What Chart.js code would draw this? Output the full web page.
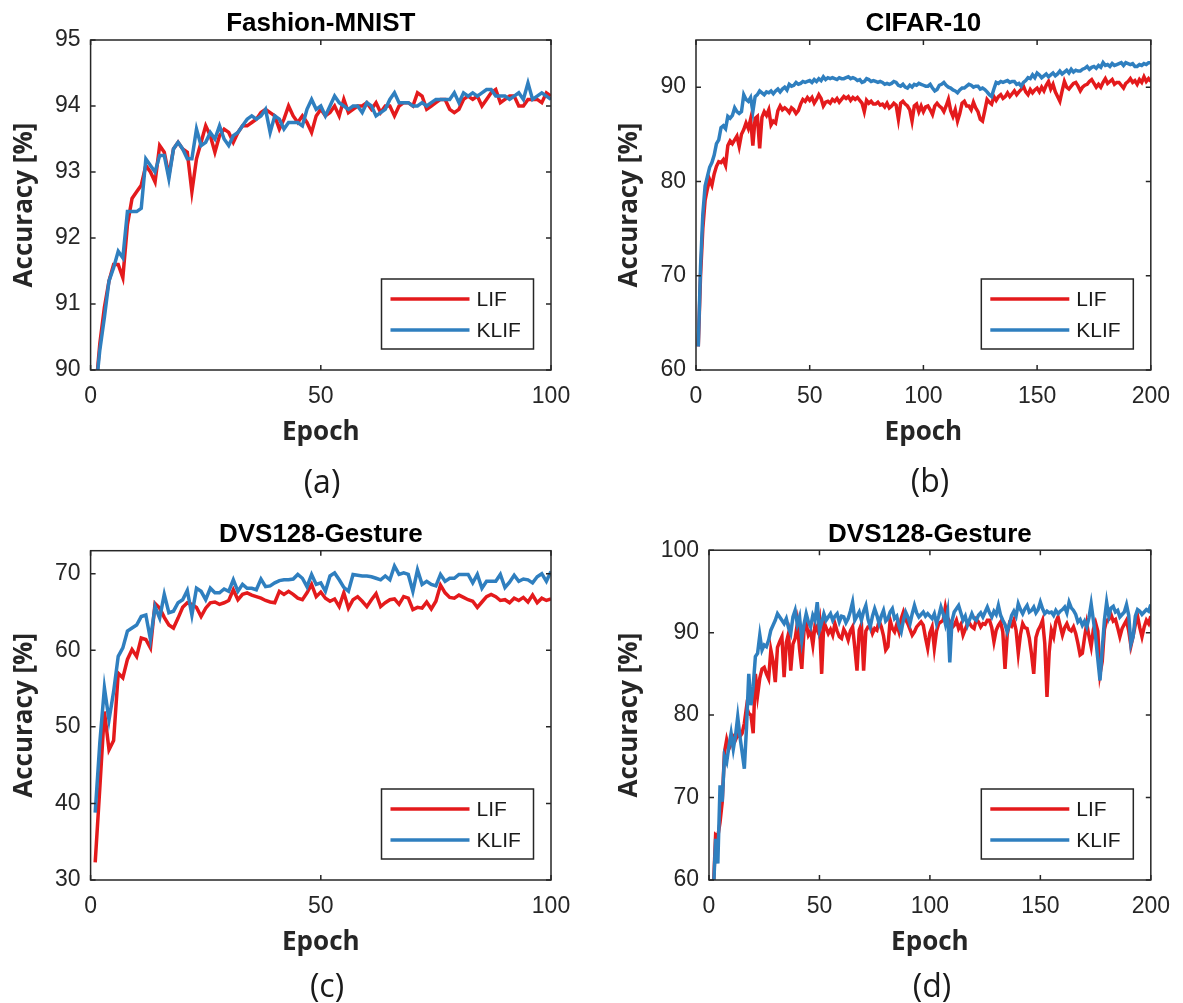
<!DOCTYPE html>
<html>
<head>
<meta charset="utf-8">
<title>LIF vs KLIF accuracy</title>
<script src="https://cdn.jsdelivr.net/npm/chart.js@4.4.1/dist/chart.umd.min.js"></script>
<style>
  body { margin: 0; background: #fff; }
  #wrap { position: relative; width: 1183px; height: 1003px; overflow: hidden; }
  canvas { position: absolute; }
  .cap { position: absolute; width: 80px; margin-left: -40px; text-align: center;
         font-family: 'Open Sans', sans-serif; font-size: 32px; color: #1a1a1a; line-height: 40px; }
</style>
</head>
<body>
<div id="wrap">
  <canvas id="chartA" width="590" height="460" style="left:0;top:0"></canvas>
  <canvas id="chartB" width="593" height="460" style="left:590px;top:0"></canvas>
  <canvas id="chartC" width="590" height="470" style="left:0;top:500px"></canvas>
  <canvas id="chartD" width="593" height="470" style="left:590px;top:500px"></canvas>
  <div class="cap" style="left:322px;top:461px">(a)</div>
  <div class="cap" style="left:930px;top:460px">(b)</div>
  <div class="cap" style="left:327px;top:965px">(c)</div>
  <div class="cap" style="left:932px;top:965px">(d)</div>
</div>
<script>
// Epoch numbers (x values)
const epochs100 = Array.from({length: 100}, (_, i) => i + 1);
const epochs200 = Array.from({length: 200}, (_, i) => i + 1);

// Tick values
const xTicks100 = [0, 50, 100];
const xTicks200 = [0, 50, 100, 150, 200];
const fmnistYTicks = [90, 91, 92, 93, 94, 95];
const cifarYTicks = [60, 70, 80, 90];
const gesture100YTicks = [30, 40, 50, 60, 70];
const gesture200YTicks = [60, 70, 80, 90, 100];

// (a) Fashion-MNIST
const fmnistLIF = [
  89.6, 90.4, 90.95, 91.35, 91.6, 91.6, 91.4, 92.2, 92.6, 92.7,
  92.8, 93.1, 93.0, 92.85, 93.4, 93.3, 92.95, 93.35, 93.45, 93.35,
  93.3, 92.7, 93.2, 93.45, 93.7, 93.55, 93.3, 93.55, 93.65, 93.6,
  93.45, 93.6, 93.7, 93.7, 93.75, 93.8, 93.9, 93.95, 93.9, 93.85,
  93.65, 93.8, 94.0, 93.85, 93.75, 93.85, 93.75, 93.6, 93.85, 93.95,
  93.85, 93.9, 94.0, 93.85, 94.1, 93.9, 93.95, 94.0, 94.0, 94.05,
  93.95, 94.05, 93.9, 94.0, 94.0, 93.85, 94.0, 94.05, 94.05, 94.0,
  94.2, 94.15, 93.95, 94.0, 94.05, 94.1, 94.1, 93.95, 93.9, 93.95,
  94.1, 94.15, 94.1, 94.15, 94.0, 94.1, 94.2, 94.25, 94.05, 94.1,
  94.15, 94.15, 94.0, 94.0, 94.1, 94.1, 94.1, 94.05, 94.2, 94.15
];
const fmnistKLIF = [
  89.6, 90.3, 90.8, 91.35, 91.55, 91.8, 91.7, 92.4, 92.4, 92.4,
  92.45, 93.2, 93.1, 93.0, 93.25, 93.25, 92.9, 93.35, 93.45, 93.35,
  93.2, 93.2, 93.65, 93.4, 93.45, 93.6, 93.5, 93.7, 93.5, 93.4,
  93.55, 93.6, 93.7, 93.8, 93.85, 93.8, 93.85, 93.95, 93.6, 93.85,
  93.8, 93.65, 93.75, 93.75, 93.75, 93.7, 93.95, 94.1, 93.95, 94.0,
  93.85, 94.0, 94.15, 94.05, 94.0, 93.95, 94.0, 94.0, 93.9, 94.05,
  94.0, 93.85, 93.9, 93.95, 94.1, 94.2, 94.05, 94.05, 94.05, 94.0,
  94.0, 94.05, 94.0, 94.05, 94.1, 94.1, 94.1, 94.1, 94.2, 94.05,
  94.2, 94.15, 94.2, 94.15, 94.2, 94.25, 94.25, 94.15, 94.15, 94.15,
  94.1, 94.15, 94.2, 94.1, 94.35, 94.1, 94.15, 94.2, 94.15, 94.1
];

// (b) CIFAR-10
const cifarLIF = [
  62.5, 70.0, 75.0, 78.0, 79.2, 80.2, 79.6, 80.8, 81.6, 82.1,
  82.0, 82.3, 81.7, 83.8, 84.3, 84.0, 84.4, 84.8, 83.7, 85.0,
  85.5, 86.2, 85.6, 86.6, 83.8, 86.7, 86.9, 83.5, 86.8, 87.4,
  87.0, 87.6, 86.0, 86.4, 86.2, 87.5, 88.0, 87.6, 87.8, 87.6,
  87.3, 87.8, 87.6, 87.2, 87.5, 88.2, 88.7, 88.5, 88.9, 88.6,
  88.9, 88.3, 88.7, 89.2, 88.8, 88.0, 88.4, 88.5, 88.3, 88.7,
  88.5, 88.8, 88.4, 88.7, 89.0, 88.8, 89.0, 88.6, 88.9, 88.7,
  88.9, 88.6, 88.3, 87.4, 88.6, 88.3, 88.5, 88.2, 88.2, 88.4,
  88.1, 88.2, 87.9, 88.3, 87.8, 88.0, 88.3, 88.1, 86.6, 88.3,
  88.5, 88.2, 88.0, 87.6, 86.4, 88.0, 88.2, 87.4, 88.0, 87.4,
  87.9, 88.0, 87.6, 87.1, 88.0, 88.3, 88.0, 87.8, 87.4, 88.0,
  88.7, 87.5, 86.9, 87.6, 86.4, 87.2, 88.3, 88.5, 88.0, 88.0,
  87.6, 88.4, 87.8, 87.4, 86.6, 86.4, 87.5, 88.7, 88.4, 88.2,
  89.0, 88.6, 89.0, 89.2, 88.8, 89.0, 89.4, 89.0, 89.3, 89.6,
  89.2, 89.5, 89.75, 90.1, 89.5, 89.2, 89.75, 89.4, 89.7, 89.9,
  89.5, 90.0, 89.6, 90.2, 90.6, 89.8, 90.3, 89.5, 89.0, 88.5,
  89.6, 90.6, 90.0, 89.8, 90.1, 90.4, 90.5, 90.1, 89.6, 90.0,
  90.2, 90.3, 90.6, 90.8, 90.4, 90.0, 90.3, 90.0, 90.5, 90.9,
  90.4, 90.6, 90.8, 90.3, 90.5, 90.5, 90.2, 89.9, 90.4, 90.6,
  90.9, 90.5, 90.7, 90.3, 90.8, 90.5, 91.1, 90.6, 90.9, 90.6
];
const cifarKLIF = [
  62.5, 71.0, 76.5, 79.5, 80.5, 81.5, 82.0, 82.8, 84.0, 84.4,
  85.7, 85.9, 85.6, 86.9, 86.7, 87.0, 87.8, 87.4, 87.2, 87.4,
  89.2, 88.7, 88.5, 88.9, 87.4, 89.0, 89.2, 89.6, 89.4, 89.2,
  89.5, 89.4, 89.6, 89.3, 89.6, 89.8, 89.5, 89.8, 90.0, 89.7,
  90.3, 90.1, 90.2, 90.5, 90.3, 90.4, 90.6, 90.5, 90.6, 90.7,
  90.5, 90.8, 90.6, 90.9, 90.7, 91.1, 90.8, 91.0, 90.9, 91.0,
  90.9, 90.8, 91.0, 90.9, 90.9, 91.0, 91.1, 90.9, 91.0, 90.9,
  90.7, 90.8, 90.5, 90.6, 90.9, 90.8, 90.6, 90.7, 90.6, 90.5,
  90.6, 90.5, 90.3, 90.4, 90.3, 90.4, 90.6, 90.5, 90.2, 90.1,
  90.3, 90.0, 89.9, 90.2, 90.0, 90.3, 90.2, 90.4, 90.3, 90.2,
  90.1, 90.1, 90.3, 89.9, 89.6, 89.75, 90.2, 90.3, 90.5, 90.2,
  90.0, 89.9, 89.7, 89.6, 89.4, 89.7, 89.9, 89.9, 90.1, 90.3,
  90.2, 90.0, 90.1, 90.1, 89.8, 89.9, 89.75, 89.5, 89.2, 89.0,
  89.8, 90.5, 90.4, 90.6, 90.5, 90.6, 90.7, 90.5, 90.6, 90.6,
  90.3, 90.4, 90.1, 90.5, 90.7, 91.0, 90.9, 91.3, 91.0, 91.5,
  91.3, 91.0, 91.2, 91.4, 91.1, 91.3, 91.5, 91.2, 91.4, 91.7,
  91.4, 91.6, 91.8, 91.5, 91.9, 91.6, 91.8, 91.7, 91.7, 91.9,
  92.0, 92.2, 91.9, 92.1, 92.2, 92.0, 92.3, 92.1, 92.6, 92.3,
  92.4, 92.2, 92.5, 92.3, 92.4, 92.5, 92.6, 92.3, 92.6, 92.5,
  92.4, 92.5, 92.2, 92.2, 92.4, 92.3, 92.5, 92.4, 92.6, 92.6
];

// (c) DVS128-Gesture, 100 epochs
const gesture100LIF = [
  32.3, 42.0, 52.0, 47.0, 48.2, 57.0, 56.4, 58.8, 60.1, 59.2,
  61.6, 61.4, 60.3, 66.1, 65.5, 64.3, 63.3, 62.9, 64.2, 65.6,
  66.2, 66.0, 65.6, 64.4, 65.5, 66.2, 66.3, 66.0, 66.2, 66.5,
  67.9, 66.6, 67.3, 67.5, 67.2, 67.0, 66.8, 66.5, 66.3, 66.2,
  67.7, 67.3, 67.7, 67.3, 66.8, 66.6, 67.5, 68.6, 67.0, 67.6,
  66.8, 66.4, 66.7, 65.7, 67.5, 65.5, 66.6, 67.0, 66.4, 65.7,
  66.6, 67.4, 65.7, 66.2, 66.6, 66.7, 66.0, 67.0, 66.8, 65.3,
  65.6, 65.5, 66.3, 65.4, 66.4, 68.5, 67.5, 66.9, 66.8, 67.2,
  66.9, 66.6, 66.4, 65.6, 66.3, 67.0, 67.3, 67.0, 66.5, 66.6,
  66.2, 66.8, 66.5, 66.9, 66.3, 67.2, 66.2, 66.8, 66.5, 66.7
];
const gesture100KLIF = [
  38.8, 47.9, 55.1, 50.9, 54.6, 59.2, 60.3, 62.5, 62.9, 63.3,
  64.4, 64.6, 61.4, 65.7, 64.2, 67.3, 64.9, 65.1, 66.2, 66.6,
  67.8, 64.6, 68.1, 67.7, 66.6, 68.1, 67.5, 67.5, 68.0, 67.7,
  69.2, 67.7, 68.6, 68.1, 68.1, 67.9, 69.3, 68.3, 68.4, 68.8,
  69.1, 69.2, 69.2, 69.3, 69.9, 69.4, 68.3, 69.9, 68.6, 68.8,
  67.7, 69.7, 70.1, 69.2, 68.2, 67.7, 69.9, 69.8, 69.7, 69.7,
  69.6, 69.4, 69.2, 69.7, 69.2, 71.0, 69.9, 70.1, 69.9, 67.7,
  70.5, 68.6, 69.0, 68.6, 68.4, 69.9, 69.0, 69.4, 69.4, 69.9,
  69.9, 69.9, 68.8, 69.9, 68.1, 69.0, 69.0, 69.0, 69.9, 68.2,
  68.9, 69.8, 69.0, 69.3, 69.2, 68.8, 69.6, 70.0, 69.0, 70.3
];

// (d) DVS128-Gesture, 200 epochs
const gesture200LIF = [
  58.0, 59.0, 65.5, 65.3, 67.0, 69.5, 75.5, 77.0, 75.9, 76.5,
  77.4, 77.0, 77.6, 77.4, 77.8, 79.0, 81.0, 80.2, 80.0, 77.8,
  85.0, 82.4, 84.5, 85.6, 85.8, 85.0, 84.4, 87.9, 86.5, 84.0,
  88.2, 88.9, 89.5, 84.6, 88.8, 89.9, 85.4, 88.6, 89.3, 91.1,
  88.0, 85.6, 90.2, 91.1, 89.7, 90.2, 88.5, 90.9, 90.3, 91.5,
  85.0, 91.3, 90.6, 89.9, 90.4, 89.7, 91.1, 90.2, 89.5, 89.3,
  90.4, 89.9, 89.1, 90.2, 90.7, 88.2, 85.4, 90.3, 91.0, 85.4,
  90.2, 90.7, 90.8, 89.9, 90.5, 90.3, 91.4, 90.7, 89.6, 87.9,
  88.3, 91.5, 90.5, 90.1, 91.0, 90.1, 91.7, 92.5, 91.6, 91.1,
  90.4, 89.7, 90.1, 90.7, 91.0, 91.3, 90.9, 89.4, 88.1, 90.0,
  90.7, 88.1, 90.2, 91.1, 91.3, 91.5, 93.1, 91.8, 91.3, 90.6,
  90.9, 91.5, 90.5, 91.0, 89.7, 90.4, 91.1, 91.1, 90.7, 90.5,
  91.6, 91.3, 90.7, 91.1, 91.0, 91.5, 91.5, 90.6, 88.9, 90.3,
  90.9, 91.3, 90.1, 85.6, 89.8, 91.1, 90.8, 91.5, 90.3, 87.5,
  89.8, 91.1, 90.6, 90.5, 89.3, 87.4, 85.0, 89.4, 90.3, 90.8,
  91.5, 88.7, 82.2, 87.6, 90.3, 89.5, 91.3, 91.9, 90.8, 89.7,
  90.6, 91.1, 90.4, 90.2, 90.7, 89.9, 88.7, 87.3, 87.5, 89.4,
  91.1, 89.6, 88.3, 90.4, 91.2, 90.2, 85.0, 86.5, 90.4, 91.5,
  91.6, 92.2, 91.4, 91.6, 90.6, 89.5, 90.5, 91.0, 91.5, 90.2,
  88.4, 89.6, 91.0, 92.0, 90.6, 89.5, 90.7, 91.5, 91.1, 92.0
];
const gesture200KLIF = [
  57.0, 58.5, 65.0, 62.0, 71.5, 69.5, 75.0, 74.3, 76.2, 77.8,
  75.9, 77.5, 79.8, 77.4, 75.5, 73.5, 78.6, 85.0, 81.2, 83.5,
  87.1, 87.5, 89.7, 87.9, 88.5, 88.3, 89.1, 90.3, 90.9, 91.5,
  92.3, 91.9, 91.5, 91.1, 91.7, 90.6, 89.9, 91.9, 92.7, 91.0,
  91.9, 89.1, 91.0, 92.3, 91.3, 90.7, 92.1, 91.5, 93.7, 90.3,
  91.2, 92.3, 91.5, 91.9, 92.3, 91.5, 92.0, 92.3, 91.3, 92.0,
  91.9, 91.2, 91.7, 92.6, 93.7, 91.5, 92.0, 92.5, 91.5, 92.6,
  93.3, 91.6, 90.7, 92.0, 92.9, 92.1, 91.1, 92.0, 92.7, 91.4,
  91.7, 92.5, 92.9, 91.7, 92.0, 90.8, 90.1, 91.5, 92.5, 91.9,
  91.1, 92.3, 93.3, 92.4, 91.9, 92.2, 92.5, 92.0, 92.3, 92.0,
  91.7, 92.3, 91.1, 92.0, 93.1, 92.3, 91.1, 92.5, 86.4, 91.4,
  92.5, 92.9, 93.3, 92.4, 91.5, 92.0, 90.9, 91.6, 92.3, 91.7,
  91.5, 92.1, 92.4, 91.9, 92.5, 93.1, 92.4, 91.9, 92.6, 92.2,
  93.3, 92.1, 91.5, 91.0, 90.1, 91.0, 92.1, 92.6, 92.0, 93.5,
  92.8, 92.3, 92.9, 93.3, 92.5, 92.7, 93.1, 92.4, 92.8, 93.7,
  92.9, 92.3, 92.6, 92.4, 92.5, 92.1, 92.7, 92.3, 92.6, 92.8,
  93.1, 92.4, 93.7, 93.0, 92.7, 92.2, 91.3, 91.6, 90.9, 91.4,
  90.7, 91.8, 93.5, 91.5, 89.5, 86.8, 84.2, 88.0, 91.5, 93.7,
  92.0, 93.0, 93.2, 92.5, 92.7, 91.9, 92.2, 92.5, 93.4, 92.1,
  88.6, 89.5, 92.0, 92.8, 92.6, 92.2, 92.5, 92.8, 92.6, 93.4
];

const seriesNames = ['LIF', 'KLIF'];
const seriesColors = ['#e41a1c', '#2f7fbf'];

const AXIS_COLOR = '#262626';
const TICK_FONT = { family: '"Liberation Sans", Arial, sans-serif', size: 23 };
const LABEL_FONT = { family: '"Open Sans", sans-serif', size: 26, weight: 'bold' };

// Box around the plot with inward tick marks on all four sides (MATLAB look)
const framePlugin = {
  id: 'frame',
  afterDatasetsDraw(chart) {
    const { ctx, chartArea: a, scales: { x, y } } = chart;
    const len = 5;
    ctx.save();
    ctx.strokeStyle = AXIS_COLOR;
    ctx.lineWidth = 1.5;
    ctx.strokeRect(a.left, a.top, a.right - a.left, a.bottom - a.top);
    ctx.beginPath();
    x.ticks.forEach(t => {
      const px = x.getPixelForValue(t.value);
      ctx.moveTo(px, a.bottom); ctx.lineTo(px, a.bottom - len);
      ctx.moveTo(px, a.top); ctx.lineTo(px, a.top + len);
    });
    y.ticks.forEach(t => {
      const py = y.getPixelForValue(t.value);
      ctx.moveTo(a.left, py); ctx.lineTo(a.left + len, py);
      ctx.moveTo(a.right, py); ctx.lineTo(a.right - len, py);
    });
    ctx.stroke();
    ctx.restore();
  }
};

// Boxed legend in the lower right corner of the plot
const boxLegend = {
  id: 'boxLegend',
  afterDraw(chart) {
    const { ctx, chartArea: a } = chart;
    const w = 152, h = 70;
    const x0 = a.right - 17.5 - w, y0 = a.bottom - 21 - h;
    ctx.save();
    ctx.fillStyle = '#fff';
    ctx.fillRect(x0, y0, w, h);
    ctx.strokeStyle = AXIS_COLOR;
    ctx.lineWidth = 1.5;
    ctx.strokeRect(x0, y0, w, h);
    ctx.font = '21px "Liberation Sans", Arial, sans-serif';
    ctx.textBaseline = 'middle';
    chart.data.datasets.forEach((ds, i) => {
      const ly = y0 + 20 + i * 31;
      ctx.strokeStyle = ds.borderColor;
      ctx.lineWidth = 3.5;
      ctx.beginPath();
      ctx.moveTo(x0 + 9, ly);
      ctx.lineTo(x0 + 88, ly);
      ctx.stroke();
      ctx.fillStyle = '#1a1a1a';
      ctx.fillText(ds.label, x0 + 95, ly + 1);
    });
    ctx.restore();
  }
};

function makePanel(p) {
  const datasets = [p.lif, p.klif].map((vals, k) => ({
    label: seriesNames[k],
    data: p.epochs.map((e, i) => ({ x: e, y: vals[i] })),
    borderColor: seriesColors[k],
    backgroundColor: seriesColors[k],
    borderWidth: 3.5,
    pointRadius: 0,
    tension: 0,
    clip: 0,
    order: k === 0 ? 1 : 0
  }));

  new Chart(document.getElementById(p.id), {
    type: 'line',
    data: { datasets: datasets },
    plugins: [framePlugin, boxLegend],
    options: {
      responsive: false,
      animation: false,
      layout: { padding: { left: p.padLeft, right: p.padRight, top: 0, bottom: 0 } },
      plugins: {
        legend: { display: false },
        tooltip: { enabled: false },
        title: {
          display: true,
          text: p.title,
          fullSize: false,
          color: '#000',
          font: { family: '"Liberation Sans", Arial, sans-serif', size: 26, weight: 'bold' },
          padding: { top: p.titleTop, bottom: p.titleBottom }
        }
      },
      scales: {
        x: {
          type: 'linear',
          position: 'bottom',
          min: 0,
          max: p.xTicks[p.xTicks.length - 1],
          grid: { display: false, drawTicks: false },
          border: { display: false },
          ticks: { font: TICK_FONT, color: AXIS_COLOR, padding: 13, maxRotation: 0 },
          afterBuildTicks: scale => { scale.ticks = p.xTicks.map(v => ({ value: v })); },
          title: { display: true, text: 'Epoch', font: LABEL_FONT, color: AXIS_COLOR, padding: { top: 0, bottom: 12 } },
          afterFit: scale => { scale.height = 90; }
        },
        y: {
          type: 'linear',
          min: p.yMin,
          max: p.yMax,
          grid: { display: false, drawTicks: false },
          border: { display: false },
          ticks: { font: TICK_FONT, color: AXIS_COLOR, padding: 10 },
          afterBuildTicks: scale => { scale.ticks = p.yTicks.map(v => ({ value: v })); },
          title: { display: true, text: 'Accuracy [%]', font: LABEL_FONT, color: AXIS_COLOR, padding: { top: 9, bottom: 0 } },
          afterFit: scale => { scale.width = p.yWidth; }
        }
      }
    }
  });
}

makePanel({ id: 'chartA', title: 'Fashion-MNIST', epochs: epochs100, lif: fmnistLIF, klif: fmnistKLIF,
  xTicks: xTicks100, yTicks: fmnistYTicks, yMin: 90, yMax: 95,
  padLeft: 0, yWidth: 90.6, padRight: 39, titleTop: 8, titleBottom: 0.8 });
makePanel({ id: 'chartB', title: 'CIFAR-10', epochs: epochs200, lif: cifarLIF, klif: cifarKLIF,
  xTicks: xTicks200, yTicks: cifarYTicks, yMin: 60, yMax: 95,
  padLeft: 15, yWidth: 91, padRight: 29, titleTop: 8, titleBottom: 0.8 });
makePanel({ id: 'chartC', title: 'DVS128-Gesture', epochs: epochs100, lif: gesture100LIF, klif: gesture100KLIF,
  xTicks: xTicks100, yTicks: gesture100YTicks, yMin: 30, yMax: 73,
  padLeft: 0, yWidth: 90.6, padRight: 39, titleTop: 19.5, titleBottom: 0 });
makePanel({ id: 'chartD', title: 'DVS128-Gesture', epochs: epochs200, lif: gesture200LIF, klif: gesture200KLIF,
  xTicks: xTicks200, yTicks: gesture200YTicks, yMin: 60, yMax: 100,
  padLeft: 15, yWidth: 104, padRight: 29, titleTop: 19, titleBottom: 0 });
</script>
</body>
</html>
